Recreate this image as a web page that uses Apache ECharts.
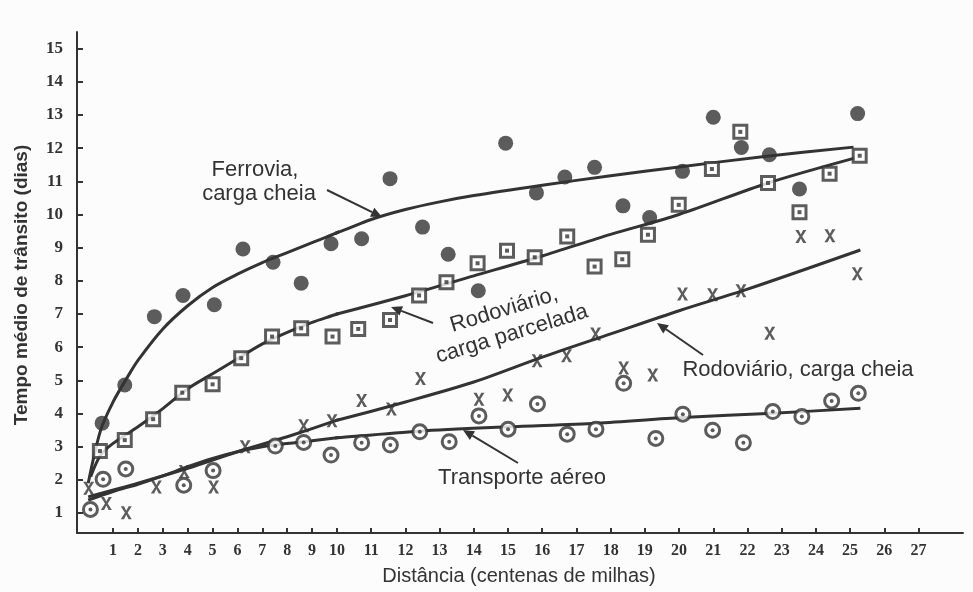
<!DOCTYPE html>
<html>
<head>
<meta charset="utf-8">
<script src="https://cdn.jsdelivr.net/npm/echarts@6/dist/echarts.min.js"></script>
<style>
  html, body { margin: 0; background: #fcfcfc; }
  #chart { width: 973px; height: 592px; }
</style>
</head>
<body>
<div id="chart"></div>
<script>
// tick values (the scanned x axis is stretched after 10, so it is drawn as two joined axes)
const xTicksLeft = [1, 2, 3, 4, 5, 6, 7, 8, 9];
const xTicksRight = [10, 11, 12, 13, 14, 15, 16, 17, 18, 19, 20, 21, 22, 23, 24, 25, 26, 27];
const yTicks = [1, 2, 3, 4, 5, 6, 7, 8, 9, 10, 11, 12, 13, 14, 15];

// observed points [distance, days]
const ferroviaPts = [[0.56, 3.71], [1.47, 4.86], [2.66, 6.92], [3.81, 7.56], [5.07, 7.28], [6.22, 8.96], [7.43, 8.56], [8.56, 7.93], [9.76, 9.12], [10.72, 9.27], [11.55, 11.08], [12.5, 9.62], [13.25, 8.8], [14.13, 7.7], [14.93, 12.15], [15.83, 10.65], [16.66, 11.13], [17.53, 11.42], [18.36, 10.26], [19.14, 9.91], [20.1, 11.3], [21.0, 12.93], [21.82, 12.02], [22.64, 11.8], [23.52, 10.77], [25.22, 13.04]];
const parceladaPts = [[0.47, 2.87], [1.47, 3.2], [2.61, 3.83], [3.78, 4.63], [5.0, 4.88], [6.15, 5.67], [7.39, 6.32], [8.56, 6.57], [9.82, 6.32], [10.62, 6.55], [11.55, 6.82], [12.4, 7.56], [13.2, 7.96], [14.11, 8.53], [14.97, 8.91], [15.78, 8.71], [16.73, 9.34], [17.53, 8.43], [18.34, 8.65], [19.09, 9.39], [19.99, 10.29], [20.96, 11.37], [21.79, 12.49], [22.6, 10.95], [23.52, 10.07], [24.4, 11.23], [25.28, 11.77]];
const cheiaPts = [[0.02, 1.75], [0.73, 1.29], [1.53, 1.01], [2.74, 1.79], [3.86, 2.25], [5.04, 1.79], [6.31, 3.0], [8.66, 3.63], [9.8, 3.78], [10.72, 4.39], [11.59, 4.14], [12.44, 5.06], [14.15, 4.43], [14.99, 4.56], [15.85, 5.59], [16.71, 5.74], [17.56, 6.4], [18.38, 5.37], [19.23, 5.16], [20.1, 7.6], [20.98, 7.58], [21.81, 7.7], [22.65, 6.42], [23.56, 9.34], [24.41, 9.36], [25.21, 8.21]];
const aereoPts = [[0.09, 1.11], [0.6, 2.02], [1.51, 2.33], [3.84, 1.84], [5.02, 2.28], [7.52, 3.02], [8.66, 3.13], [9.76, 2.75], [10.72, 3.12], [11.56, 3.05], [12.42, 3.45], [13.28, 3.15], [14.15, 3.93], [15.0, 3.53], [15.86, 4.29], [16.73, 3.38], [17.57, 3.53], [18.38, 4.91], [19.32, 3.25], [20.11, 3.98], [20.98, 3.5], [21.88, 3.12], [22.74, 4.06], [23.59, 3.91], [24.46, 4.38], [25.24, 4.61]];

// hand-drawn trend curves
const ferroviaFit = [[0, 1.9], [0.5, 3.5], [1.0, 4.35], [1.5, 5.0], [2.0, 5.6], [3.0, 6.55], [4.0, 7.25], [5.0, 7.8], [6.0, 8.2], [7.0, 8.55], [8.0, 8.85], [9.0, 9.15], [10, 9.45], [11, 9.85], [12, 10.15], [13, 10.38], [14, 10.57], [16, 10.88], [18, 11.17], [20, 11.43], [22.5, 11.75], [25.1, 12.03]];
const parceladaFit = [[0.1, 2.1], [0.5, 2.75], [1.0, 3.1], [2.0, 3.6], [3.0, 4.15], [4.0, 4.75], [5.0, 5.2], [6.0, 5.65], [7.0, 6.1], [8.0, 6.45], [9.0, 6.75], [10, 7.0], [12, 7.55], [14, 8.15], [16, 8.75], [18, 9.4], [20, 10.0], [22.6, 10.95], [25.13, 11.7]];
const cheiaFit = [[0, 1.49], [2, 1.9], [4, 2.35], [6, 2.85], [8, 3.3], [10, 3.8], [12, 4.35], [14, 4.95], [16, 5.7], [18, 6.4], [20, 7.1], [22, 7.75], [25.3, 8.93]];
const aereoFit = [[0, 1.39], [1, 1.65], [2, 1.87], [3, 2.12], [4, 2.4], [5, 2.65], [6, 2.85], [7, 3.0], [8, 3.1], [9, 3.18], [10, 3.27], [12.4, 3.47], [15, 3.6], [17.6, 3.71], [20.1, 3.88], [22.75, 4.01], [25.3, 4.16]];

const INK = "#333";
const SANS = "'Liberation Sans', Arial, sans-serif";
const SERIF = "'Liberation Serif', 'Times New Roman', serif";
const X_MARK = "path://M0 0H3.5L6 4.5L8.5 0H12L7.5 6.5L12 13H8.5L6 8.5L3.5 13H0L4.5 6.5Z";

const chart = echarts.init(document.getElementById("chart"));

function xAxisFor(g, min, max, ticks) {
  return {
    gridIndex: g,
    type: "value",
    min: min,
    max: max,
    axisLine: { onZero: false, lineStyle: { color: INK, width: 2 } },
    axisTick: { inside: true, length: 5, customValues: ticks, lineStyle: { color: INK, width: 2 } },
    axisLabel: {
      customValues: ticks,
      showMinLabel: true,
      margin: 10,
      color: INK,
      fontFamily: SERIF,
      fontWeight: "bold",
      fontSize: 16,
    },
    splitLine: { show: false },
  };
}

function yAxisFor(g, show) {
  return {
    gridIndex: g,
    type: "value",
    min: 0.4,
    max: 15.5,
    show: show,
    axisLine: { onZero: false, lineStyle: { color: INK, width: 2 } },
    axisTick: { inside: true, length: 6, customValues: yTicks, lineStyle: { color: INK, width: 2 } },
    axisLabel: {
      customValues: yTicks,
      margin: 14,
      color: INK,
      fontFamily: SERIF,
      fontWeight: "bold",
      fontSize: 17,
    },
    splitLine: { show: false },
  };
}

function fitLine(g, data) {
  return {
    type: "line",
    xAxisIndex: g,
    yAxisIndex: g,
    data: data,
    smooth: 0.3,
    symbol: "none",
    clip: true,
    silent: true,
    z: 1,
    lineStyle: { color: INK, width: 3 },
  };
}

function dots(g, data, symbol, size, fill, border) {
  return {
    type: "scatter",
    xAxisIndex: g,
    yAxisIndex: g,
    data: data,
    symbol: symbol,
    symbolSize: size,
    clip: true,
    silent: true,
    z: 3,
    itemStyle: { color: fill, borderColor: INK, borderWidth: border },
  };
}

function seriesFor(g) {
  return [
    fitLine(g, ferroviaFit),
    fitLine(g, parceladaFit),
    fitLine(g, cheiaFit),
    fitLine(g, aereoFit),
    dots(g, ferroviaPts, "circle", 15, INK, 0),
    dots(g, parceladaPts, "rect", 13, "#fff", 3),
    dots(g, parceladaPts, "rect", 4, INK, 0),
    dots(g, aereoPts, "circle", 14, "#fff", 3),
    dots(g, aereoPts, "circle", 4, INK, 0),
    dots(g, cheiaPts, X_MARK, [11, 13], INK, 0),
  ];
}

function label(x, y, text, rot) {
  return {
    type: "text",
    x: x,
    y: y,
    rotation: ((rot || 0) * Math.PI) / 180,
    style: {
      text: text,
      fill: INK,
      font: "22px " + SANS,
      align: "center",
      verticalAlign: "middle",
    },
  };
}

function arrow(x1, y1, x2, y2) {
  const a = Math.atan2(y2 - y1, x2 - x1);
  const len = 11, w = 5;
  const bx = x2 - len * Math.cos(a), by = y2 - len * Math.sin(a);
  return [
    { type: "line", shape: { x1: x1, y1: y1, x2: bx, y2: by }, style: { stroke: INK, lineWidth: 2 } },
    {
      type: "polygon",
      shape: {
        points: [
          [x2, y2],
          [bx + w * Math.sin(a), by - w * Math.cos(a)],
          [bx - w * Math.sin(a), by + w * Math.cos(a)],
        ],
      },
      style: { fill: INK },
    },
  ];
}

const option = {
  animation: false,
  backgroundColor: "#fcfcfc",
  grid: [
    { left: 77, top: 32, width: 260, bottom: 59 },
    { left: 337, top: 32, right: 10, bottom: 59 },
  ],
  xAxis: [xAxisFor(0, -0.45, 10, xTicksLeft), xAxisFor(1, 10, 28.3, xTicksRight)],
  yAxis: [yAxisFor(0, true), yAxisFor(1, false)],
  series: seriesFor(0).concat(seriesFor(1)),
  graphic: [
    label(255, 170, "Ferrovia,"),
    label(259, 194, "carga cheia"),
    label(504, 310, "Rodoviário,", 17),
    label(512, 334, "carga parcelada", 17),
    label(798, 370, "Rodoviário, carga cheia"),
    label(522, 478, "Transporte aéreo"),
    {
      type: "text",
      x: 22,
      y: 285,
      rotation: Math.PI / 2,
      style: {
        text: "Tempo médio de trânsito (dias)",
        fill: INK,
        font: "bold 19px " + SANS,
        align: "center",
        verticalAlign: "middle",
      },
    },
    {
      type: "text",
      x: 519,
      y: 576,
      style: {
        text: "Distância (centenas de milhas)",
        fill: INK,
        font: "20px " + SANS,
        align: "center",
        verticalAlign: "middle",
      },
    },
  ]
    .concat(arrow(327, 190, 382, 217))
    .concat(arrow(433, 323, 391, 307))
    .concat(arrow(703, 355, 657, 323))
    .concat(arrow(518, 463, 463, 430)),
};

chart.setOption(option);
</script>
</body>
</html>
